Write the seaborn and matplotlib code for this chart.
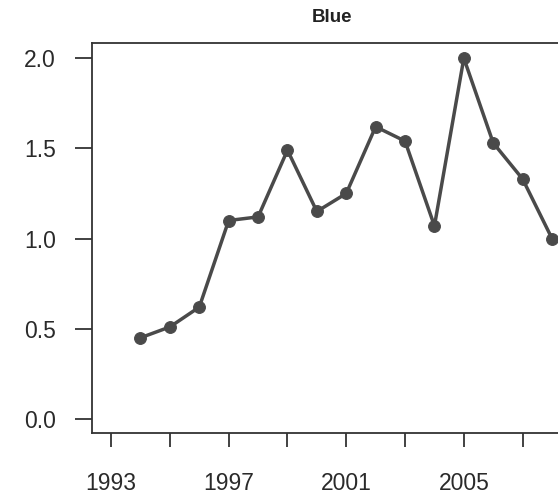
import matplotlib
matplotlib.use("Agg")
import matplotlib.pyplot as plt
import seaborn as sns
import pandas as pd

years = [1994, 1995, 1996, 1997, 1998, 1999, 2000, 2001, 2002, 2003, 2004, 2005, 2006, 2007, 2008]
values = [0.45, 0.51, 0.62, 1.10, 1.12, 1.49, 1.15, 1.25, 1.62, 1.54, 1.07, 2.00, 1.53, 1.33, 1.00]
x_ticks = [1993, 1995, 1997, 1999, 2001, 2003, 2005, 2007]
x_labels = ["1993", "", "1997", "", "2001", "", "2005", ""]
y_ticks = [0.0, 0.5, 1.0, 1.5, 2.0]
y_labels = ["0.0", "0.5", "1.0", "1.5", "2.0"]

sns.set_style("ticks")
plt.rcParams["font.family"] = ["Liberation Sans", "DejaVu Sans"]

df = pd.DataFrame({"year": years, "value": values})

fig = plt.figure(figsize=(5.58, 4.94), dpi=100)
ax = fig.add_axes([92 / 558, (494 - 433) / 494, (572 - 92) / 558, (433 - 43) / 494])

ink = "#4a4a4a"
sns.lineplot(data=df, x="year", y="value", ax=ax, color=ink, linewidth=2.5,
             marker="o", markersize=8.5, markeredgecolor=ink, markerfacecolor=ink)

ax.set_xlim(1992.35, 2008.68)
ax.set_ylim(-0.078, 2.084)
ax.set_xticks(x_ticks)
ax.set_xticklabels(x_labels)
ax.set_yticks(y_ticks)
ax.set_yticklabels(y_labels)
ax.set_xlabel("")
ax.set_ylabel("")

for s in ax.spines.values():
    s.set_color("#333333")
    s.set_linewidth(1.3)

ax.tick_params(axis="both", direction="out", colors="#333333", labelcolor="#2a2a2a",
               width=1.3, labelsize=16.5)
ax.tick_params(axis="y", length=12, pad=14)
ax.tick_params(axis="x", length=10, pad=18)

ax.set_title("Blue", fontsize=13.5, fontweight="bold", color="#222222", pad=15)

fig.savefig("out.png", dpi=100)
